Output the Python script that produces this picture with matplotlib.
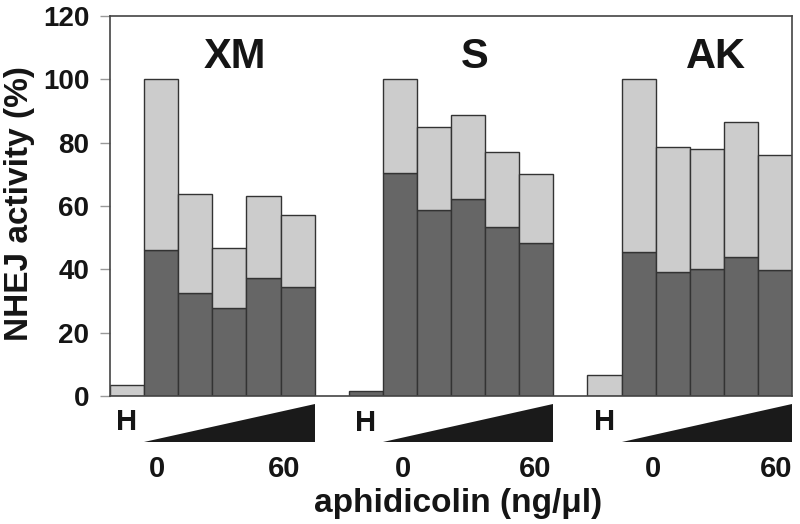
import numpy as np
import matplotlib
matplotlib.use('Agg')
import matplotlib.pyplot as plt
from matplotlib.patches import Polygon

plt.rcParams['font.family'] = ['Liberation Sans', 'DejaVu Sans']
plt.rcParams['font.weight'] = 'bold'

# data (NHEJ activity, %)
groups = ['XM', 'S', 'AK']
lane_labels = ['H', '0', '', '', '', '60']
total = [[3.5, 100, 63.8, 46.6, 63.3, 57.3],
         [1.6, 100, 85.0, 88.8, 77.0, 70.0],
         [6.6, 100, 78.7, 77.9, 86.4, 76.2]]
dark = [[0, 46.1, 32.4, 27.7, 37.2, 34.3],
        [1.6, 70.3, 58.7, 62.2, 53.4, 48.2],
        [0, 45.4, 39.3, 40.1, 43.8, 39.8]]
yticks = [0, 20, 40, 60, 80, 100, 120]

dark_col = '#666666'
light_col = '#cccccc'
edge_col = '#333333'
txt_col = '#151515'

# label placement tweaks per group (lane units from group start)
title_off = [3.67, 3.70, 3.77]
h_base = [-10.7, -11.2, -10.7]
off0 = [1.38, 1.59, 1.92]
off60 = [5.10, 5.46, 5.53]

fig = plt.figure(figsize=(8, 5.24), dpi=100)
ax = fig.add_axes([0.1375, 0.2443, 0.8525, 0.7252])

nlane = len(lane_labels)
for g, name in enumerate(groups):
    x0 = g * (nlane + 1)
    x = x0 + np.arange(nlane)
    d = np.array(dark[g])
    t = np.array(total[g])
    light = t - d
    for xi, di, li in zip(x, d, light):
        if di > 0:
            ax.bar(xi, di, width=1, align='edge', color=dark_col,
                   edgecolor=edge_col, linewidth=1)
        if li > 0:
            ax.bar(xi, li, bottom=di, width=1, align='edge', color=light_col,
                   edgecolor=edge_col, linewidth=1)
    # group title
    ax.text(x0 + title_off[g], 103.5, name, ha='center', va='baseline',
            fontsize=30, fontweight='bold', color=txt_col)
    # H label under the first lane
    ax.text(x0 + 0.5, h_base[g], lane_labels[0], ha='center', va='baseline',
            fontsize=21, fontweight='bold', clip_on=False, color=txt_col)
    # concentration wedge over the treated lanes
    wedge = Polygon([[x0 + 1, -14.4], [x0 + nlane, -14.4], [x0 + nlane, -2.6]],
                    closed=True, facecolor='#1a1a1a', edgecolor='none',
                    clip_on=False)
    ax.add_patch(wedge)
    ax.text(x0 + off0[g], -25.5, lane_labels[1], ha='center', va='baseline',
            fontsize=21, fontweight='bold', clip_on=False, color=txt_col)
    ax.text(x0 + off60[g], -25.5, lane_labels[-1], ha='center', va='baseline',
            fontsize=21, fontweight='bold', clip_on=False, color=txt_col)

ax.set_xlim(0, len(groups) * (nlane + 1) - 1)
ax.set_ylim(0, 120)
ax.set_xticks([])
ax.set_yticks(yticks)
ax.set_yticklabels([str(v) for v in yticks], fontsize=20, fontweight='bold',
                   color=txt_col)
ax.tick_params(axis='y', direction='out', length=7, width=1, color='#999999',
               pad=8)
for s in ax.spines.values():
    s.set_color('#444444')
    s.set_linewidth(1.2)

fig.text(0.024, 0.611, 'NHEJ activity (%)', rotation=90, ha='center',
         va='center', fontsize=24, fontweight='bold', color=txt_col)
fig.text(0.5725, 0.0229, 'aphidicolin (ng/\u03bcl)', ha='center',
         va='baseline', fontsize=24, fontweight='bold', color=txt_col)

plt.savefig('out.png', dpi=100)
